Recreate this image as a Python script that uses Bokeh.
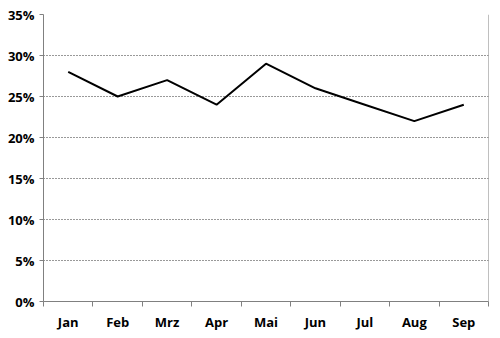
from bokeh.plotting import figure
from bokeh.models import FixedTicker, NumeralTickFormatter, Range1d, Span, ColumnDataSource
from bokeh.embed import file_html
from bokeh.resources import INLINE

months = ["Jan", "Feb", "Mrz", "Apr", "Mai", "Jun", "Jul", "Aug", "Sep"]
values = [0.28, 0.25, 0.27, 0.24, 0.29, 0.26, 0.24, 0.22, 0.24]
y_ticks = [0.0, 0.05, 0.10, 0.15, 0.20, 0.25, 0.30, 0.35]

xpos = [i + 0.5 for i in range(len(months))]
src = ColumnDataSource(dict(x=xpos, y=values))

FONT = "Open Sans"
AXIS_GRAY = "#808080"

p = figure(width=500, height=338, output_backend="svg", toolbar_location=None,
           x_range=Range1d(0, len(months)), y_range=Range1d(0, 0.35),
           min_border_left=43, min_border_right=12, min_border_top=14, min_border_bottom=37,
           frame_width=445, frame_height=287)
p.outline_line_color = None
p.background_fill_color = "white"
p.border_fill_color = "white"

p.line("x", "y", source=src, line_color="black", line_width=2)

# x axis
xa = p.xaxis[0]
xa.ticker = FixedTicker(ticks=xpos, minor_ticks=list(range(len(months) + 1)))
xa.major_label_overrides = {x: m for x, m in zip(xpos, months)}
xa.major_tick_line_color = None
xa.minor_tick_line_color = AXIS_GRAY
xa.minor_tick_in = 0
xa.minor_tick_out = 5
xa.axis_line_color = AXIS_GRAY
xa.major_label_text_font = FONT
xa.major_label_text_font_style = "bold"
xa.major_label_text_font_size = "13px"
xa.major_label_text_color = "black"
xa.major_label_standoff = 5

# y axis
ya = p.yaxis[0]
ya.ticker = FixedTicker(ticks=y_ticks)
ya.formatter = NumeralTickFormatter(format="0%")
ya.major_tick_line_color = AXIS_GRAY
ya.major_tick_in = 0
ya.major_tick_out = 4
ya.minor_tick_line_color = None
ya.axis_line_color = AXIS_GRAY
ya.major_label_text_font = FONT
ya.major_label_text_font_style = "bold"
ya.major_label_text_font_size = "13px"
ya.major_label_text_color = "black"
ya.major_label_standoff = 5

p.xgrid.grid_line_color = None
p.ygrid.ticker = FixedTicker(ticks=y_ticks)
p.ygrid.grid_line_color = "#333333"
p.ygrid.grid_line_dash = "1 2"
p.ygrid.grid_line_width = 1

p.add_layout(Span(location=len(months), dimension="height", line_color=AXIS_GRAY, line_width=1))

open("out.html", "w").write(file_html(p, INLINE))
